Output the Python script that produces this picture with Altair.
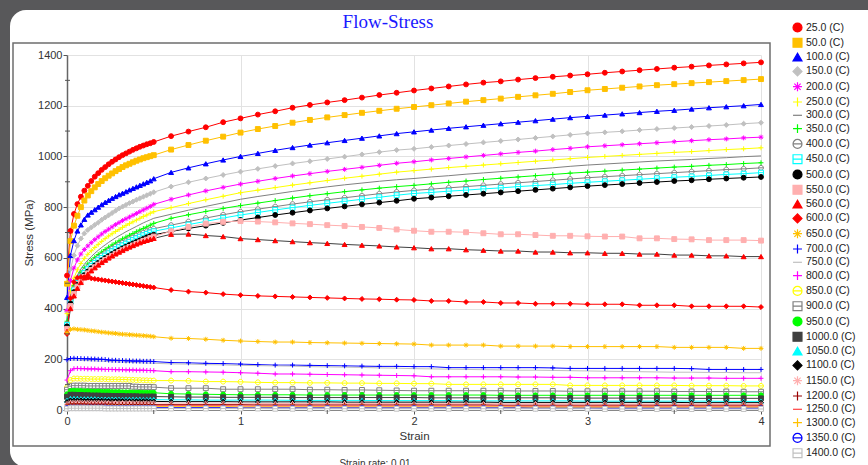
import altair as alt
import pandas as pd

STRAIN = [0, 0.02, 0.04, 0.06, 0.08, 0.10, 0.12, 0.14, 0.16, 0.18,
          0.20, 0.22, 0.24, 0.26, 0.28, 0.30, 0.32, 0.34, 0.36, 0.38,
          0.40, 0.42, 0.44, 0.46, 0.48, 0.50,
          0.6, 0.7, 0.8, 0.9, 1.0, 1.1, 1.2, 1.3, 1.4, 1.5, 1.6, 1.7, 1.8, 1.9,
          2.0, 2.1, 2.2, 2.3, 2.4, 2.5, 2.6, 2.7, 2.8, 2.9, 3.0, 3.1, 3.2, 3.3,
          3.4, 3.5, 3.6, 3.7, 3.8, 3.9, 4.0]

TEMPS = ["25.0 (C)", "50.0 (C)", "100.0 (C)", "150.0 (C)", "200.0 (C)", "250.0 (C)",
         "300.0 (C)", "350.0 (C)", "400.0 (C)", "450.0 (C)", "500.0 (C)", "550.0 (C)",
         "560.0 (C)", "600.0 (C)", "650.0 (C)", "700.0 (C)", "750.0 (C)", "800.0 (C)",
         "850.0 (C)", "900.0 (C)", "950.0 (C)", "1000.0 (C)", "1050.0 (C)", "1100.0 (C)",
         "1150.0 (C)", "1200.0 (C)", "1250.0 (C)", "1300.0 (C)", "1350.0 (C)", "1400.0 (C)"]

S25 = [530, 706, 773, 812, 841, 865, 884, 903, 920, 934, 947, 958, 969, 979, 988, 997, 1005, 1012, 1019, 1026, 1032, 1038, 1043, 1048, 1052, 1057,
       1080, 1098, 1115, 1135, 1150, 1165, 1178, 1192, 1203, 1213, 1222, 1232, 1242, 1251, 1260, 1268, 1276, 1284, 1291, 1296, 1303, 1309, 1314, 1319, 1324, 1330, 1335, 1340, 1345, 1350, 1354, 1359, 1363, 1367, 1371]
S50 = [498, 666, 727, 766, 800, 826, 846, 863, 878, 891, 903, 914, 924, 933, 942, 950, 958, 965, 971, 977, 983, 988, 993, 997, 1001, 1005,
       1027, 1045, 1062, 1078, 1094, 1108, 1120, 1133, 1144, 1154, 1163, 1172, 1180, 1188, 1195, 1202, 1209, 1216, 1222, 1228, 1235, 1241, 1247, 1254, 1261, 1266, 1271, 1276, 1281, 1285, 1289, 1293, 1297, 1301, 1305]
S100 = [444, 610, 668, 706, 730, 752, 769, 780, 790, 800, 810, 819, 827, 835, 842, 849, 855, 861, 868, 874, 880, 886, 892, 898, 904, 912,
        937, 955, 971, 986, 1000, 1012, 1024, 1035, 1045, 1054, 1063, 1072, 1081, 1090, 1097, 1104, 1111, 1117, 1123, 1129, 1135, 1141, 1147, 1153, 1158, 1163, 1168, 1173, 1178, 1182, 1187, 1192, 1196, 1200, 1205]
S150 = [390, 555, 610, 648, 676, 696, 710, 720, 730, 739, 750, 759, 768, 777, 786, 795, 802, 809, 816, 822, 829, 835, 841, 847, 853, 859,
        881, 898, 913, 927, 940, 951, 962, 972, 981, 990, 999, 1008, 1017, 1025, 1030, 1037, 1043, 1049, 1055, 1061, 1067, 1073, 1079, 1085, 1091, 1095, 1099, 1104, 1108, 1112, 1116, 1120, 1124, 1129, 1133]
S200 = [392, 510, 560, 592, 615, 633, 647, 660, 672, 683, 694, 704, 713, 722, 731, 739, 747, 754, 761, 768, 775, 782, 789, 796, 803, 811,
        831, 848, 864, 878, 891, 902, 913, 923, 932, 941, 949, 957, 965, 973, 979, 986, 992, 998, 1004, 1010, 1016, 1021, 1027, 1032, 1038, 1042, 1046, 1050, 1054, 1058, 1062, 1066, 1069, 1073, 1076]
S250 = [380, 470, 520, 553, 578, 598, 614, 628, 641, 653, 665, 676, 686, 695, 704, 712, 720, 728, 735, 742, 749, 756, 763, 769, 776, 782,
        798, 814, 829, 843, 857, 867, 877, 887, 896, 905, 914, 922, 930, 938, 944, 950, 956, 961, 966, 971, 976, 981, 986, 991, 996, 1000, 1004, 1008, 1012, 1016, 1019, 1023, 1027, 1030, 1034]
S300 = [360, 450, 500, 532, 556, 575, 591, 605, 618, 630, 641, 651, 661, 670, 679, 687, 695, 703, 710, 717, 724, 731, 738, 744, 750, 756,
        772, 788, 803, 817, 831, 842, 852, 862, 871, 880, 888, 895, 902, 908, 913, 919, 924, 930, 935, 940, 945, 950, 955, 961, 966, 970, 974, 978, 982, 985, 988, 992, 995, 999, 1002]
S350 = [350, 440, 490, 520, 543, 561, 576, 590, 602, 613, 623, 633, 642, 651, 659, 667, 675, 682, 689, 696, 703, 710, 716, 722, 729, 736,
        756, 770, 783, 795, 806, 816, 826, 836, 845, 853, 861, 868, 875, 881, 886, 892, 898, 903, 909, 914, 919, 924, 929, 934, 938, 942, 946, 950, 954, 958, 961, 965, 968, 972, 975]
S400 = [340, 430, 478, 508, 530, 548, 563, 576, 588, 599, 609, 618, 627, 636, 644, 652, 659, 666, 673, 680, 687, 693, 699, 705, 710, 715,
        729, 743, 757, 770, 782, 792, 802, 812, 821, 829, 837, 845, 853, 860, 866, 871, 876, 881, 886, 891, 896, 901, 906, 911, 916, 920, 924, 928, 932, 936, 940, 944, 948, 951, 955]
S450 = [335, 425, 472, 501, 523, 540, 555, 568, 580, 591, 600, 609, 618, 626, 634, 642, 649, 656, 663, 670, 677, 683, 689, 694, 700, 705,
        718, 731, 744, 757, 769, 779, 789, 798, 807, 815, 823, 831, 839, 847, 854, 858, 863, 867, 872, 876, 881, 885, 889, 894, 898, 902, 906, 910, 914, 918, 921, 925, 929, 932, 936]
S500 = [330, 420, 465, 494, 515, 532, 546, 559, 570, 580, 590, 599, 607, 615, 623, 630, 637, 644, 651, 657, 663, 669, 675, 681, 686, 691,
        704, 716, 727, 738, 749, 759, 769, 778, 787, 795, 803, 811, 818, 825, 833, 838, 843, 848, 853, 858, 863, 868, 873, 878, 883, 887, 891, 895, 899, 903, 906, 910, 913, 916, 919]
S550 = [320, 410, 458, 487, 508, 525, 539, 552, 563, 573, 583, 592, 600, 608, 616, 623, 630, 637, 643, 649, 655, 661, 667, 672, 678, 684,
        705, 722, 735, 742, 745, 743, 740, 736, 733, 729, 726, 722, 718, 712, 707, 703, 703, 701, 697, 693, 693, 690, 687, 687, 685, 684, 684, 677, 677, 674, 673, 670, 670, 670, 668]
S560 = [310, 400, 450, 480, 503, 521, 536, 549, 561, 572, 582, 591, 600, 608, 616, 623, 630, 637, 643, 649, 655, 660, 665, 669, 673, 677,
        693, 694, 688, 684, 676, 672, 668, 664, 660, 657, 653, 650, 647, 643, 640, 636, 636, 632, 630, 627, 627, 623, 623, 620, 620, 618, 618, 615, 615, 611, 611, 608, 608, 605, 605]
S600 = [300, 440, 505, 522, 525, 524, 522, 519, 517, 515, 513, 511, 509, 507, 505, 503, 501, 499, 497, 495, 493, 491, 489, 487, 485, 483,
        473, 467, 463, 457, 453, 450, 448, 446, 444, 442, 440, 438, 437, 435, 434, 430, 430, 426, 426, 422, 422, 419, 419, 419, 417, 417, 417, 413, 413, 413, 409, 409, 409, 409, 406]
S650 = [305, 318, 320, 318, 317, 316, 314, 312, 311, 309, 307, 306, 304, 303, 302, 300, 299, 298, 297, 296, 295, 294, 293, 292, 291, 289,
        283, 282, 279, 275, 272, 270, 268, 268, 266, 265, 264, 263, 262, 261, 260, 256, 256, 256, 256, 252, 252, 252, 252, 250, 250, 250, 250, 250, 250, 247, 247, 247, 247, 243, 243]
S700 = [198, 203, 204, 203, 203, 202, 202, 201, 201, 200, 200, 199, 197, 196, 196, 195, 195, 194, 194, 193, 193, 193, 192, 192, 192, 191,
        187, 186, 184, 183, 181, 179, 177, 177, 176, 175, 174, 173, 172, 172, 171, 171, 167, 167, 167, 167, 167, 167, 166, 164, 164, 164, 164, 164, 164, 164, 163, 160, 160, 160, 160]
S750 = [190, 196, 197, 196, 196, 195, 195, 194, 194, 193, 193, 192, 191, 190, 190, 189, 189, 188, 188, 187, 187, 186, 186, 185, 185, 184,
        182, 181, 179, 178, 176, 175, 174, 173, 171, 170, 169, 168, 166, 165, 163, 162, 161, 160, 159, 158, 157, 157, 156, 155, 154, 153, 152, 151, 150, 149, 149, 148, 148, 147, 147]
S800 = [118, 155, 163, 164, 163, 163, 162, 162, 162, 161, 161, 160, 160, 160, 159, 159, 159, 158, 158, 158, 157, 157, 157, 156, 156, 155,
        151, 151, 150, 149, 147, 145, 142, 142, 141, 140, 139, 138, 137, 136, 135, 131, 131, 131, 131, 131, 130, 130, 129, 129, 127, 127, 127, 127, 127, 126, 126, 126, 125, 125, 125]
S850 = [90, 118, 124, 124, 123, 123, 123, 122, 122, 122, 122, 122, 121, 121, 121, 121, 120, 120, 119, 119, 118, 118, 117, 117, 116, 116,
        116, 115, 112, 112, 111, 109, 108, 108, 107, 107, 106, 106, 105, 105, 104, 104, 101, 101, 101, 101, 101, 101, 101, 97, 97, 97, 97, 97, 97, 97, 96, 96, 96, 95, 95]
S900 = [80, 94, 96, 96, 96, 96, 95, 95, 95, 95, 95, 95, 95, 95, 95, 95, 95, 95, 95, 92, 92, 91, 91, 91, 91, 90,
        86, 86, 86, 82, 82, 82, 82, 82, 80, 80, 79, 79, 78, 77, 76, 76, 76, 76, 76, 76, 75, 75, 75, 74, 74, 74, 74, 74, 74, 73, 73, 73, 73, 72, 72]
S950 = [62, 75, 76, 75, 75, 74, 74, 73, 73, 73, 72, 72, 72, 71, 71, 71, 70, 70, 70, 69, 69, 69, 68, 68, 68, 68,
        64, 63, 62, 61, 60, 60, 60, 60, 59, 59, 59, 59, 59, 59, 59, 59, 59, 59, 59, 58, 58, 58, 58, 58, 58, 58, 58, 58, 58, 58, 58, 58, 58, 58, 58]
S1000 = [52, 60, 60, 59, 59, 58, 58, 57, 57, 57, 56, 56, 56, 55, 55, 55, 55, 54, 54, 54, 54, 53, 53, 53, 53, 53,
         52, 51, 51, 50, 50, 50, 50, 49, 49, 49, 49, 49, 49, 49, 49, 48, 48, 48, 48, 48, 48, 48, 48, 47, 47, 47, 47, 47, 47, 47, 46, 46, 46, 46, 46]
S1050 = [38, 45, 45, 45, 44, 44, 44, 44, 44, 43, 43, 43, 43, 43, 43, 42, 42, 42, 42, 42, 42, 42, 41, 41, 41, 41,
         40, 40, 39, 39, 39, 39, 39, 38, 38, 38, 38, 38, 37, 37, 37, 37, 37, 36, 36, 36, 36, 36, 36, 36, 35, 35, 35, 35, 35, 35, 35, 35, 34, 34, 34]
S1100 = [32, 38, 38, 38, 38, 37, 37, 37, 37, 37, 37, 36, 36, 36, 36, 36, 36, 35, 35, 35, 35, 35, 35, 35, 34, 34,
         33, 33, 33, 33, 32, 32, 32, 32, 32, 32, 31, 31, 31, 31, 31, 31, 31, 31, 31, 30, 30, 30, 30, 30, 30, 30, 30, 30, 30, 30, 29, 29, 29, 29, 29]
S1150 = [26, 31, 31, 31, 31, 30, 30, 30, 30, 30, 30, 30, 29, 29, 29, 29, 29, 29, 29, 29, 28, 28, 28, 28, 28, 28,
         27, 27, 27, 27, 27, 26, 26, 26, 26, 26, 26, 26, 26, 25, 25, 25, 25, 25, 25, 25, 25, 25, 25, 25, 25, 24, 24, 24, 24, 24, 24, 24, 24, 24, 24]
S1200 = [20, 24, 24, 24, 24, 24, 23, 23, 23, 23, 23, 23, 23, 23, 22, 22, 22, 22, 22, 22, 22, 22, 22, 22, 21, 21,
         21, 21, 21, 21, 21, 20, 20, 20, 20, 20, 20, 20, 20, 20, 20, 20, 20, 20, 20, 19, 19, 19, 19, 19, 19, 19, 19, 19, 19, 19, 19, 19, 19, 19, 19]
S1250 = [16, 19, 19, 19, 19, 19, 19, 18, 18, 18, 18, 18, 18, 18, 18, 18, 18, 18, 17, 17, 17, 17, 17, 17, 17, 17,
         17, 17, 17, 17, 16, 16, 16, 16, 16, 16, 16, 16, 16, 16, 16, 16, 16, 16, 16, 16, 15, 15, 15, 15, 15, 15, 15, 15, 15, 15, 15, 15, 15, 15, 15]
S1300 = [12, 15, 15, 15, 15, 15, 15, 14, 14, 14, 14, 14, 14, 14, 14, 14, 14, 14, 14, 13, 13, 13, 13, 13, 13, 13,
         13, 13, 13, 13, 12, 12, 12, 12, 12, 12, 12, 12, 12, 12, 12, 12, 12, 12, 12, 12, 11, 11, 11, 11, 11, 11, 11, 11, 11, 11, 11, 11, 11, 11, 11]
S1350 = [8, 10, 10, 10, 10, 10, 10, 10, 10, 10, 10, 10, 9, 9, 9, 9, 9, 9, 9, 9, 9, 9, 9, 9, 9, 9,
         9, 9, 9, 9, 8, 8, 8, 8, 8, 8, 8, 8, 8, 8, 8, 8, 8, 8, 8, 8, 8, 7, 7, 7, 7, 7, 7, 7, 7, 7, 7, 7, 7, 7, 7]
S1400 = [5, 7, 7, 7, 7, 7, 7, 7, 7, 7, 7, 6, 6, 6, 6, 6, 6, 6, 6, 6, 6, 6, 6, 6, 6, 6,
         6, 6, 6, 6, 6, 6, 5, 5, 5, 5, 5, 5, 5, 5, 5, 5, 5, 5, 5, 5, 5, 5, 5, 5, 5, 4, 4, 4, 4, 4, 4, 4, 4, 4, 4]

SERIES = [S25, S50, S100, S150, S200, S250, S300, S350, S400, S450, S500, S550, S560, S600, S650,
          S700, S750, S800, S850, S900, S950, S1000, S1050, S1100, S1150, S1200, S1250, S1300, S1350, S1400]

PLUS = "M-1,0L1,0M0,-1L0,1"
AST = "M-1,0L1,0M0,-1L0,1M-0.7,-0.7L0.7,0.7M-0.7,0.7L0.7,-0.7"
DASH = "M-1,0L1,0"
OCIRC = "M-1,0A1,1,0,1,1,1,0A1,1,0,1,1,-1,0ZM-1,0L1,0"
OSQ = "M-1,-1L1,-1L1,1L-1,1ZM-1,0L1,0"

COLORS = ["#ff0000", "#ffc000", "#0000ff", "#c0c0c0", "#ff00ff", "#ffff00", "#808080", "#00ff00",
          "#808080", "#00ffff", "#000000", "#ffafaf", "#ff0000", "#ff0000", "#ffc000", "#0000ff",
          "#c0c0c0", "#ff00ff", "#ffff00", "#808080", "#00ff00", "#404040", "#00ffff", "#000000",
          "#ffafaf", "#990000", "#ff4040", "#ffc000", "#0000ff", "#c0c0c0"]
LINE_COLORS = ["#ff0000", "#ffc000", "#0000ff", "#c0c0c0", "#ff00ff", "#ffff00", "#808080", "#00ff00",
               "#808080", "#00ffff", "#000000", "#ffafaf", "#404040", "#ff0000", "#ffc000", "#0000ff",
               "#c0c0c0", "#ff00ff", "#ffff00", "#808080", "#00ff00", "#404040", "#00ffff", "#000000",
               "#ffafaf", "#990000", "#ff4040", "#ffc000", "#0000ff", "#c0c0c0"]
FILLS = ["#ff0000", "#ffc000", "#0000ff", "#c0c0c0", "#ff00ff", "#ffff00", "#808080", "#00ff00",
         "#ffffff", "#ffffff", "#000000", "#ffafaf", "#ff0000", "#ff0000", "#ffc000", "#0000ff",
         "#c0c0c0", "#ff00ff", "#ffffff", "#ffffff", "#00ff00", "#404040", "#00ffff", "#000000",
         "#ffafaf", "#990000", "#ff4040", "#ffc000", "#ffffff", "#ffffff"]
SHAPES = ["circle", "square", "triangle-up", "diamond", AST, PLUS, DASH, PLUS,
          OCIRC, OSQ, "circle", "square", "triangle-up", "diamond", AST, PLUS,
          DASH, PLUS, OCIRC, OSQ, "circle", "square", "triangle-up", "diamond",
          AST, PLUS, DASH, PLUS, OCIRC, OSQ]
HAS_MARKER = [True, True, True, True, True, True, False, True, True, True, True, True, True, True, True, True,
              False, True, True, True, True, True, True, True, True, True, False, True, True, True]

Y_TICKS = [0, 200, 400, 600, 800, 1000, 1200, 1400]
Y_MINOR = [100, 300, 500, 700, 900, 1100, 1300]
X_TICKS = [0, 1, 2, 3, 4]
X_MINOR = [0.5, 1.5, 2.5, 3.5]

rows = []
for name, vals, lc, hm in zip(TEMPS, SERIES, LINE_COLORS, HAS_MARKER):
    if len(vals) != len(STRAIN):
        raise ValueError(f"{name}: {len(vals)} values")
    for s, v in zip(STRAIN, vals):
        rows.append({"strain": s, "stress": v, "series": name, "lcolor": lc, "marker": hm})
df = pd.DataFrame(rows)

FONT = "Liberation Sans"
xs = alt.Scale(domain=[0, 4], nice=False)
ys = alt.Scale(domain=[0, 1400], nice=False)

x_axis = alt.Axis(values=X_TICKS, format="d", title="Strain", grid=True, gridColor="#e2e2e2",
                  domainColor="#888888", tickColor="#555555", tickSize=4, labelPadding=1,
                  labelFlush=False, labelFont=FONT, labelFontSize=11, labelColor="#333333",
                  titleFont=FONT, titleFontSize=11.5, titleFontWeight="normal", titleColor="#333333",
                  titlePadding=4)
y_axis = alt.Axis(values=Y_TICKS, format="d", title="Stress (MPa)", grid=True, gridColor="#e2e2e2",
                  domainColor="#666666", domainWidth=1.5, tickColor="#555555", tickSize=4, labelPadding=1,
                  labelFont=FONT, labelFontSize=11, labelColor="#333333",
                  titleFont=FONT, titleFontSize=11.5, titleFontWeight="normal", titleColor="#333333",
                  titlePadding=3)

lines = alt.Chart(df).mark_line(strokeWidth=1).encode(
    x=alt.X("strain:Q", scale=xs, axis=x_axis),
    y=alt.Y("stress:Q", scale=ys, axis=y_axis),
    detail="series:N",
    stroke=alt.Stroke("lcolor:N", scale=None),
)

legend = alt.Legend(title=None, orient="none", legendX=725, legendY=-33)
points = alt.Chart(df).transform_filter("datum.marker").mark_point(
    size=24, strokeWidth=1, opacity=1, filled=False
).encode(
    x=alt.X("strain:Q", scale=xs, axis=x_axis),
    y=alt.Y("stress:Q", scale=ys, axis=y_axis),
    shape=alt.Shape("series:N", scale=alt.Scale(domain=TEMPS, range=SHAPES), legend=legend),
    fill=alt.Fill("series:N", scale=alt.Scale(domain=TEMPS, range=FILLS), legend=legend),
    stroke=alt.Stroke("series:N", scale=alt.Scale(domain=TEMPS, range=COLORS), legend=legend),
)

yminor = alt.Chart(pd.DataFrame({"v": Y_MINOR})).mark_rule(color="#555555", strokeWidth=1).encode(
    y=alt.Y("v:Q", scale=ys, axis=y_axis), x=alt.value(-2), x2=alt.value(3))
xminor = alt.Chart(pd.DataFrame({"v": X_MINOR})).mark_rule(color="#555555", strokeWidth=1).encode(
    x=alt.X("v:Q", scale=xs, axis=x_axis), y=alt.value(355), y2=alt.value(359))

one = pd.DataFrame({"a": [0]})
DARK = "#58585a"
top_strip = alt.Chart(one).mark_rect(color=DARK).encode(
    x=alt.value(-67), x2=alt.value(801), y=alt.value(-55), y2=alt.value(-45))
left_strip = alt.Chart(one).mark_rect(color=DARK).encode(
    x=alt.value(-67), x2=alt.value(-57), y=alt.value(-55), y2=alt.value(410))
tl_dark = alt.Chart(one).mark_rect(color=DARK).encode(
    x=alt.value(-57), x2=alt.value(-41), y=alt.value(-45), y2=alt.value(-29))
tl_white = alt.Chart(one).mark_rect(color="white", cornerRadius=16).encode(
    x=alt.value(-57), x2=alt.value(-25), y=alt.value(-45), y2=alt.value(-13))
bl_dark = alt.Chart(one).mark_rect(color=DARK).encode(
    x=alt.value(-57), x2=alt.value(-41), y=alt.value(394), y2=alt.value(410))
bl_white = alt.Chart(one).mark_rect(color="white", cornerRadius=16).encode(
    x=alt.value(-57), x2=alt.value(-25), y=alt.value(379), y2=alt.value(412))
frame = alt.Chart(one).mark_rect(fillOpacity=0, stroke="#6e6e6e", strokeWidth=1.5).encode(
    x=alt.value(-54), x2=alt.value(703), y=alt.value(-12), y2=alt.value(391))

title = alt.Chart(pd.DataFrame({"t": ["Flow-Stress"]})).mark_text(
    font="Liberation Serif", fontSize=19, color="#1a1aff", align="center", baseline="middle"
).encode(x=alt.value(321), y=alt.value(-33), text="t:N")
subtitle = alt.Chart(pd.DataFrame({"t": ["Strain rate: 0.01"]})).mark_text(
    font=FONT, fontSize=10, color="#333333", align="center", baseline="top"
).encode(x=alt.value(308), y=alt.value(404), text="t:N")

chart = alt.layer(
    lines, points, yminor, xminor, top_strip, left_strip, tl_dark, tl_white, bl_dark, bl_white,
    frame, title, subtitle
).properties(
    width=694, height=355,
    padding={"left": 67, "top": 55, "right": 107, "bottom": 55},
    autosize=alt.AutoSizeParams(type="none"),
    background="white",
).configure_view(stroke=None).configure_legend(
    symbolSize=80, symbolStrokeWidth=1.2, labelFont=FONT, labelFontSize=10.5,
    labelColor="#222222", rowPadding=0.3, labelOffset=3
)

chart.save("out.html", embed_options={"renderer": "svg", "actions": False})
